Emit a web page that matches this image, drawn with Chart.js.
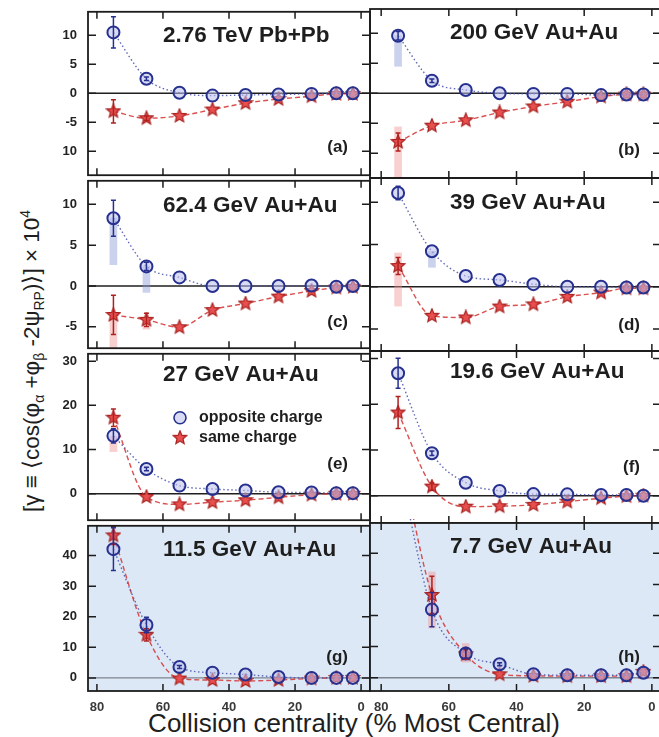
<!DOCTYPE html>
<html>
<head>
<meta charset="utf-8">
<title>Charge-dependent azimuthal correlations</title>
<script src="https://cdn.jsdelivr.net/npm/chart.js@4.4.1/dist/chart.umd.min.js"></script>
<style>
  html, body { margin: 0; padding: 0; background: #fff; }
  body { width: 659px; height: 737px; position: relative; overflow: hidden; font-family: "Liberation Sans", Arial, sans-serif; color: #1e1e1e; }
  .panel { position: absolute; }
  #ytitle { position: absolute; left: 32px; top: 361px; transform: translate(-50%, -50%) rotate(-90deg); white-space: nowrap; font-size: 22.5px; }
  #xtitle { position: absolute; left: 354px; top: 723px; transform: translate(-50%, -50%); white-space: nowrap; font-size: 26px; }
  #ytitle sub, #ytitle sup { font-size: 62%; }
</style>
</head>
<body>
<div id="ytitle">[γ ≡ ⟨cos(φ<sub>α</sub> +φ<sub>β</sub> -2ψ<sub>RP</sub>)⟩] × 10<sup>4</sup></div>
<div id="xtitle">Collision centrality (% Most Central)</div>
<script>
// Centralité (centre des classes, %)
const centrality = [75, 65, 55, 45, 35, 25, 15, 7.5, 2.5];

// (a) 2.76 TeV Pb+Pb
const pbpb276Opp     = [10.5, 2.5, 0.1, -0.4, -0.3, -0.2, -0.1, 0, 0];
const pbpb276OppErr  = [2.7, 0.3, 0, 0, 0, 0, 0, 0, 0];
const pbpb276Same    = [-3.1, -4.3, -3.9, -2.8, -1.7, -1.0, -0.5, -0.1, -0.1];
const pbpb276SameErr = [2.0, 0.4, 0, 0, 0, 0, 0, 0, 0];

// (b) 200 GeV Au+Au
const auau200Opp     = [9.6, 2.1, 0.55, 0, -0.1, -0.1, -0.3, -0.2, -0.2];
const auau200OppErr  = [0.7, 0.3, 0, 0, 0, 0, 0, 0, 0];
const auau200OppSys  = [[4.5, 9.6], null, null, null, null, null, null, null, null];
const auau200Same    = [-8.1, -5.4, -4.5, -3.2, -2.2, -1.4, -0.55, -0.2, -0.2];
const auau200SameErr = [1.5, 0, 0, 0, 0, 0, 0, 0, 0];
const auau200SameSys = [[-15, -5.6], null, null, null, null, null, null, null, null];

// (c) 62.4 GeV Au+Au
const auau62Opp     = [8.3, 2.4, 1.05, 0, 0, 0, 0.05, -0.1, 0];
const auau62OppErr  = [2.2, 0.5, 0, 0, 0, 0, 0, 0, 0];
const auau62OppSys  = [[2.6, 8.3], [-0.8, 2.4], null, null, null, null, null, null, null];
const auau62Same    = [-3.55, -4.15, -5.05, -2.95, -2.15, -1.3, -0.6, -0.2, -0.1];
const auau62SameErr = [2.4, 0.8, 0, 0, 0, 0, 0, 0, 0];
const auau62SameSys = [[-8, -3.55], [-5.3, -4.15], null, null, null, null, null, null, null];

// (d) 39 GeV Au+Au
const auau39Opp     = [11.1, 4.2, 1.27, 0.8, 0.3, 0, 0, -0.1, -0.1];
const auau39OppErr  = [0.8, 0, 0, 0, 0, 0, 0, 0, 0];
const auau39OppSys  = [null, [2.3, 4.2], null, null, null, null, null, null, null];
const auau39Same    = [2.45, -3.45, -3.65, -2.35, -2.1, -1.2, -0.7, -0.2, -0.2];
const auau39SameErr = [1.0, 0, 0, 0, 0, 0, 0, 0, 0];
const auau39SameSys = [[-2.3, 4.0], null, null, null, null, null, null, null, null];

// (e) 27 GeV Au+Au
const auau27Opp     = [13.1, 5.6, 1.85, 1.1, 0.75, 0.35, 0.3, 0.15, 0.15];
const auau27OppErr  = [1.6, 0.4, 0, 0, 0, 0, 0, 0, 0];
const auau27Same    = [17.2, -0.7, -2.4, -1.9, -1.45, -0.8, -0.2, 0, 0];
const auau27SameErr = [2.0, 0, 0, 0, 0, 0, 0, 0, 0];
const auau27SameSys = [[9.5, 13], null, null, null, null, null, null, null, null];

// (f) 19.6 GeV Au+Au
const auau19Opp     = [26.8, 9.3, 2.85, 1.05, 0.35, 0.3, 0.15, 0.15, 0];
const auau19OppErr  = [3.3, 0.5, 0, 0, 0, 0, 0, 0, 0];
const auau19Same    = [18.2, 2.0, -2.4, -2.3, -2.0, -1.3, -0.55, -0.1, 0];
const auau19SameErr = [3.5, 0.8, 0, 0, 0, 0, 0, 0, 0];

// (g) 11.5 GeV Au+Au
const auau11Opp     = [42.1, 17.3, 3.55, 1.7, 1.1, 0.3, 0, 0, 0];
const auau11OppErr  = [7, 2.5, 0.5, 0, 0, 0, 0, 0, 0];
const auau11Same    = [46.6, 14.1, -0.2, -0.7, -1.0, -0.7, -0.2, 0, 0];
const auau11SameErr = [3, 2, 0, 0, 0, 0, 0, 0, 0];

// (h) 7.7 GeV Au+Au
const auau7Opp     = [70, 21.9, 7.8, 4.3, 1.1, 0.8, 0.8, 0.8, 1.6];
const auau7OppErr  = [0, 5.5, 1.5, 0.5, 0, 0, 0, 0, 0];
const auau7Same    = [75, 26.6, 7.5, 1.1, 0.6, 0.5, 0.5, 0.5, 1.9];
const auau7SameErr = [0, 6, 1.5, 0, 0, 0, 0, 0, 0];
const auau7SameSys = [null, [16, 34], [5, 11], null, null, null, null, null, null];

const FONT = '"Liberation Sans", Arial, sans-serif';

// Géométrie des colonnes / lignes (pixels de la page)
const cols = {
    left:  { l: 88,  r: 370, xMin: -2.7, xMax: 82.7, titleDx: 75, labelDx: 22 },
    right: { l: 370, r: 661, xMin: -2.7, xMax: 83.3, titleDx: 80, labelDx: 21 }
};
const rows = [
    { t: 9,   b: 178, yMin: -14.12, yMax: 14.05, step: 5,  titleDy: 24, labelDy: 28 },
    { t: 178, b: 351, yMin: -7.62,  yMax: 12.88, step: 5,  titleDy: 25, labelDy: 26 },
    { t: 351, b: 523, yMin: -5.97,  yMax: 31.66, step: 10, titleDy: 21, labelDy: 56 },
    { t: 523, b: 691, yMin: -4.28,  yMax: 49.74, step: 10, titleDy: 24, labelDy: 34 }
];

const panels = [
    { col: 'left',  row: 0, title: '2.76 TeV Pb+Pb', label: '(a)', opp: pbpb276Opp, oppErr: pbpb276OppErr, same: pbpb276Same, sameErr: pbpb276SameErr },
    { col: 'right', row: 0, title: '200 GeV Au+Au',  label: '(b)', opp: auau200Opp, oppErr: auau200OppErr, oppSys: auau200OppSys, same: auau200Same, sameErr: auau200SameErr, sameSys: auau200SameSys },
    { col: 'left',  row: 1, title: '62.4 GeV Au+Au', label: '(c)', opp: auau62Opp, oppErr: auau62OppErr, oppSys: auau62OppSys, same: auau62Same, sameErr: auau62SameErr, sameSys: auau62SameSys },
    { col: 'right', row: 1, title: '39 GeV Au+Au',   label: '(d)', opp: auau39Opp, oppErr: auau39OppErr, oppSys: auau39OppSys, same: auau39Same, sameErr: auau39SameErr, sameSys: auau39SameSys },
    { col: 'left',  row: 2, title: '27 GeV Au+Au',   label: '(e)', opp: auau27Opp, oppErr: auau27OppErr, same: auau27Same, sameErr: auau27SameErr, sameSys: auau27SameSys, legend: true },
    { col: 'right', row: 2, title: '19.6 GeV Au+Au', label: '(f)', opp: auau19Opp, oppErr: auau19OppErr, same: auau19Same, sameErr: auau19SameErr },
    { col: 'left',  row: 3, title: '11.5 GeV Au+Au', label: '(g)', opp: auau11Opp, oppErr: auau11OppErr, same: auau11Same, sameErr: auau11SameErr, shaded: true },
    { col: 'right', row: 3, title: '7.7 GeV Au+Au',  label: '(h)', opp: auau7Opp, oppErr: auau7OppErr, same: auau7Same, sameErr: auau7SameErr, sameSys: auau7SameSys, shaded: true }
];

// Étoile pleine pour "same charge"
function makeStar(size, fill, stroke) {
    const c = document.createElement('canvas');
    c.width = c.height = size;
    const g = c.getContext('2d');
    const cx = size / 2, R = size / 2 - 1, r = R * 0.45;
    g.beginPath();
    for (let k = 0; k < 10; k++) {
        const ang = -Math.PI / 2 + k * Math.PI / 5;
        const rad = k % 2 ? r : R;
        g.lineTo(cx + rad * Math.cos(ang), cx + rad * Math.sin(ang));
    }
    g.closePath();
    g.fillStyle = fill;
    g.fill();
    g.lineWidth = 1.2;
    g.strokeStyle = stroke;
    g.stroke();
    return c;
}
const starImg = makeStar(16, '#e8504f', '#a8201e');

const OPP_EDGE = '#26308f';
const OPP_FILL = 'rgba(185, 190, 235, 0.55)';
const SAME_EDGE = '#b0201e';

// Décor du panneau : fond, ligne zéro, barres d'erreur, cadre, graduations, textes
const panelDeco = {
    id: 'panelDeco',
    beforeDraw(chart, args, o) {
        if (!o.shaded) return;
        const { ctx, chartArea: a } = chart;
        ctx.save();
        ctx.fillStyle = '#dde8f6';
        ctx.fillRect(a.left, a.top, a.right - a.left, a.bottom - a.top);
        ctx.restore();
    },
    beforeDatasetsDraw(chart, args, o) {
        const { ctx, chartArea: a, scales: { y } } = chart;
        const y0 = y.getPixelForValue(0);
        ctx.save();
        ctx.strokeStyle = o.shaded ? '#7d8590' : '#1f1f1f';
        ctx.lineWidth = 1.4;
        ctx.beginPath();
        ctx.moveTo(a.left, y0);
        ctx.lineTo(a.right, y0);
        ctx.stroke();
        ctx.restore();
    },
    afterDatasetsDraw(chart, args, o) {
        const { ctx, chartArea: a, scales: { x, y } } = chart;

        // Barres d'erreur statistiques
        ctx.save();
        ctx.beginPath();
        ctx.rect(a.left, a.top, a.right - a.left, a.bottom - a.top);
        ctx.clip();
        o.errors.forEach(set => {
            ctx.strokeStyle = set.color;
            ctx.lineWidth = 1.5;
            set.values.forEach((v, i) => {
                const e = set.errs[i];
                if (!e) return;
                const px = x.getPixelForValue(centrality[i]);
                const top = y.getPixelForValue(v + e);
                const bot = y.getPixelForValue(v - e);
                ctx.beginPath();
                ctx.moveTo(px, top); ctx.lineTo(px, bot);
                ctx.moveTo(px - 2.5, top); ctx.lineTo(px + 2.5, top);
                ctx.moveTo(px - 2.5, bot); ctx.lineTo(px + 2.5, bot);
                ctx.stroke();
            });
        });
        ctx.restore();

        // Cadre et graduations (vers l'intérieur)
        ctx.save();
        ctx.strokeStyle = '#1c1c1c';
        ctx.lineWidth = 1.8;
        ctx.strokeRect(a.left, a.top, a.right - a.left, a.bottom - a.top);
        ctx.lineWidth = 1.5;
        ctx.beginPath();
        x.ticks.forEach(t => {
            const px = x.getPixelForValue(t.value);
            ctx.moveTo(px, a.top); ctx.lineTo(px, a.top + 7);
            ctx.moveTo(px, a.bottom - 7); ctx.lineTo(px, a.bottom);
        });
        y.ticks.forEach(t => {
            const py = y.getPixelForValue(t.value);
            ctx.moveTo(a.left, py); ctx.lineTo(a.left + 8, py);
            ctx.moveTo(a.right - 8, py); ctx.lineTo(a.right, py);
        });
        ctx.stroke();

        // Titre et étiquette du panneau
        ctx.fillStyle = '#1e1e1e';
        ctx.textBaseline = 'middle';
        ctx.textAlign = 'left';
        ctx.font = 'bold 22.5px ' + FONT;
        ctx.fillText(o.title, a.left + o.titleDx, a.top + o.titleDy);
        ctx.textAlign = 'right';
        ctx.font = 'bold 17px ' + FONT;
        ctx.fillText(o.label, a.right - o.labelDx, a.bottom - o.labelDy);

        // Légende
        if (o.legend) {
            const lx = a.left + 92;
            ctx.beginPath();
            ctx.arc(lx, a.top + 64, 6, 0, Math.PI * 2);
            ctx.fillStyle = OPP_FILL;
            ctx.fill();
            ctx.lineWidth = 1.6;
            ctx.strokeStyle = OPP_EDGE;
            ctx.stroke();
            ctx.drawImage(starImg, lx - 8, a.top + 84 - 8);
            ctx.fillStyle = '#1e1e1e';
            ctx.textAlign = 'left';
            ctx.font = 'bold 16px ' + FONT;
            ctx.fillText('opposite charge', a.left + 111, a.top + 64);
            ctx.fillText('same charge', a.left + 111, a.top + 84);
        }
        ctx.restore();
    }
};

function toPoints(values) {
    return centrality.map((x, i) => ({ x: x, y: values[i] }));
}

function toBands(sys) {
    if (!sys) return [];
    return centrality.map((x, i) => sys[i] ? { x: x, y: sys[i] } : null).filter(Boolean);
}

function makePanel(p) {
    const col = cols[p.col];
    const row = rows[p.row];
    const m = 8;
    const axW = p.col === 'left' ? 45 : 0;
    const axH = p.row === 3 ? 22 : 0;

    const div = document.createElement('div');
    div.className = 'panel';
    div.style.left = (col.l - axW - m) + 'px';
    div.style.top = (row.t - m) + 'px';
    div.style.width = (col.r - col.l + axW + 2 * m) + 'px';
    div.style.height = (row.b - row.t + axH + 2 * m) + 'px';
    const canvas = document.createElement('canvas');
    div.appendChild(canvas);
    document.body.appendChild(div);

    new Chart(canvas, {
        type: 'line',
        data: {
            datasets: [
                {
                    type: 'line',
                    label: 'opposite charge',
                    data: toPoints(p.opp),
                    borderColor: 'rgba(70, 80, 170, 0.85)',
                    borderWidth: 1.4,
                    borderDash: [1.5, 2.5],
                    cubicInterpolationMode: 'monotone',
                    pointStyle: 'circle',
                    pointRadius: 6,
                    pointBorderWidth: 2,
                    pointBorderColor: OPP_EDGE,
                    pointBackgroundColor: OPP_FILL,
                    clip: 4,
                    order: 1
                },
                {
                    type: 'line',
                    label: 'same charge',
                    data: toPoints(p.same),
                    borderColor: 'rgba(215, 60, 60, 0.9)',
                    borderWidth: 1.4,
                    borderDash: [5, 3],
                    cubicInterpolationMode: 'monotone',
                    pointStyle: starImg,
                    pointRadius: 8,
                    clip: 4,
                    order: 2
                },
                {
                    type: 'bar',
                    label: 'opp sys',
                    data: toBands(p.oppSys),
                    backgroundColor: 'rgba(140, 155, 215, 0.45)',
                    barThickness: 7,
                    grouped: false,
                    clip: 0,
                    order: 3
                },
                {
                    type: 'bar',
                    label: 'same sys',
                    data: toBands(p.sameSys),
                    backgroundColor: 'rgba(240, 150, 150, 0.45)',
                    barThickness: 7,
                    grouped: false,
                    clip: 0,
                    order: 4
                }
            ]
        },
        options: {
            responsive: true,
            maintainAspectRatio: false,
            animation: false,
            layout: { autoPadding: false, padding: { left: m, right: m, top: m, bottom: m } },
            plugins: {
                legend: { display: false },
                tooltip: { enabled: false },
                panelDeco: {
                    title: p.title,
                    label: p.label,
                    titleDx: col.titleDx,
                    titleDy: row.titleDy,
                    labelDx: col.labelDx,
                    labelDy: row.labelDy,
                    legend: !!p.legend,
                    shaded: !!p.shaded,
                    errors: [
                        { values: p.same, errs: p.sameErr, color: SAME_EDGE },
                        { values: p.opp, errs: p.oppErr, color: OPP_EDGE }
                    ]
                }
            },
            scales: {
                x: {
                    type: 'linear',
                    reverse: true,
                    min: col.xMin,
                    max: col.xMax,
                    offset: false,
                    grid: { display: false },
                    border: { display: false },
                    ticks: {
                        display: p.row === 3,
                        stepSize: 20,
                        includeBounds: false,
                        autoSkip: false,
                        maxRotation: 0,
                        padding: 1,
                        color: '#3a3a3a',
                        font: { family: FONT, size: 13, weight: 'bold' }
                    },
                    afterFit: s => { s.height = axH; }
                },
                y: {
                    type: 'linear',
                    min: row.yMin,
                    max: row.yMax,
                    grid: { display: false },
                    border: { display: false },
                    ticks: {
                        display: p.col === 'left',
                        stepSize: row.step,
                        includeBounds: false,
                        padding: 3,
                        color: '#222',
                        font: { family: FONT, size: 13, weight: 'bold' },
                        callback: v => (v === -10 ? '10' : v)
                    },
                    afterFit: s => { s.width = axW; }
                }
            }
        },
        plugins: [panelDeco]
    });
}

panels.forEach(makePanel);
</script>
</body>
</html>
